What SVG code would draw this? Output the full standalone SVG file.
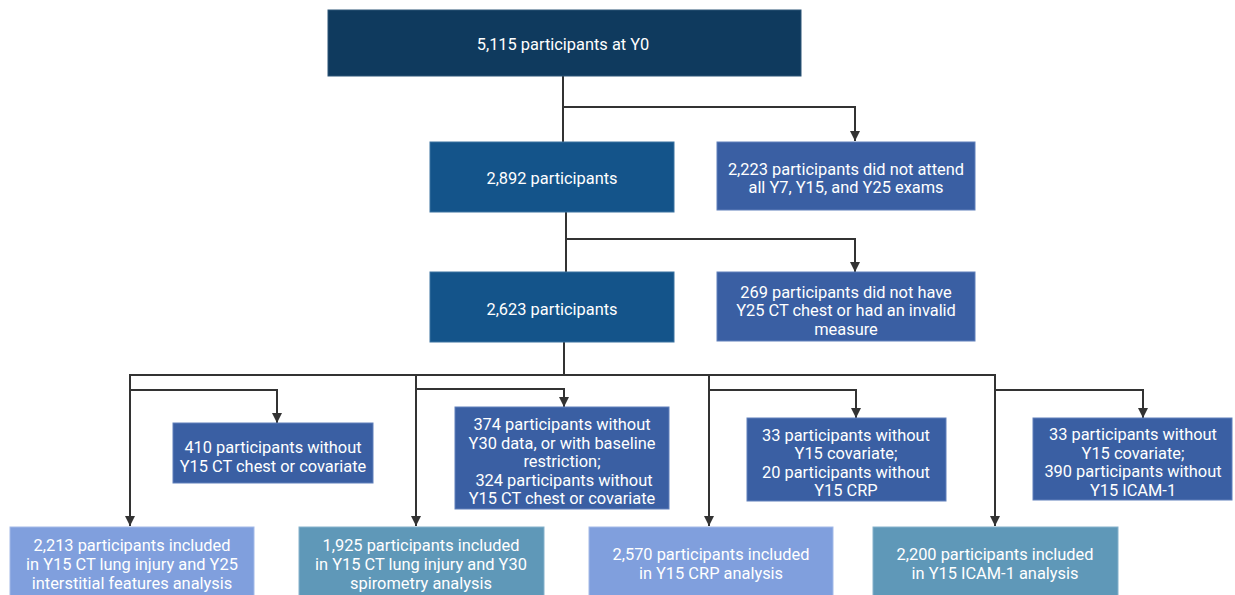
<svg xmlns="http://www.w3.org/2000/svg" width="1235" height="595" viewBox="0 0 1235 595">
<defs>
<marker id="arr" viewBox="0 0 10 10" refX="10" refY="5" markerWidth="5" markerHeight="5" orient="auto" markerUnits="strokeWidth">
<path d="M0,0 L10,5 L0,10 Z" fill="#333"/>
</marker>
<style>
text{font-family:Roboto,"Liberation Sans",sans-serif;font-size:16.4px;fill:#fff;text-anchor:middle;dominant-baseline:central}
.c{fill:none;stroke:#333;stroke-width:2}
.a{marker-end:url(#arr)}
.top{fill:#0f3a5e;stroke:#2c5577;stroke-width:1}
.mid{fill:#14548a;stroke:#3a72a0;stroke-width:1}
.exc{fill:#3a5fa3;stroke:#6180bb;stroke-width:1}
.inc1{fill:#809fdd;stroke:#a3bae8;stroke-width:1}
.inc2{fill:#5f98b8;stroke:#86b2cc;stroke-width:1}
</style>
</defs>
<rect width="1235" height="595" fill="#fff"/>
<g id="connectors">
<path class="c" d="M563 76V142"/>
<path class="c a" d="M563 107H855V141"/>
<path class="c" d="M566 212V272"/>
<path class="c a" d="M566 239H855V272"/>
<path class="c" d="M564 341V375"/>
<path class="c" d="M129 375H996"/>
<path class="c a" d="M130 375V526"/>
<path class="c a" d="M416 375V526"/>
<path class="c a" d="M709 375V526"/>
<path class="c a" d="M995 375V526"/>
<path class="c a" d="M130 390H277V423"/>
<path class="c a" d="M416 389H564V407"/>
<path class="c a" d="M709 390H856V418"/>
<path class="c a" d="M995 390H1143V418"/>
</g>
<g id="n1"><rect class="top" x="328" y="10" width="473" height="66"/><text x="563" y="44">5,115 participants at Y0</text></g>
<g id="n2"><rect class="mid" x="430" y="142" width="244" height="70"/><text x="552" y="178">2,892 participants</text></g>
<g id="n3"><rect class="exc" x="717" y="142" width="258" height="68"/><text x="846" y="169">2,223 participants did not attend</text><text x="846" y="187">all Y7, Y15, and Y25 exams</text></g>
<g id="n4"><rect class="mid" x="430" y="272" width="244" height="70"/><text x="552" y="309">2,623 participants</text></g>
<g id="n5"><rect class="exc" x="717" y="272" width="258" height="69"/><text x="846" y="292">269 participants did not have</text><text x="846" y="310">Y25 CT chest or had an invalid</text><text x="846" y="329">measure</text></g>
<g id="n6"><rect class="exc" x="173" y="423" width="200" height="60"/><text x="273" y="447">410 participants without</text><text x="273" y="466">Y15 CT chest or covariate</text></g>
<g id="n7"><rect class="exc" x="455" y="407" width="214" height="102"/><text x="562" y="424">374 participants without</text><text x="562" y="443">Y30 data, or with baseline</text><text x="562" y="461">restriction;</text><text x="564" y="480">324 participants without</text><text x="562" y="498">Y15 CT chest or covariate</text></g>
<g id="n8"><rect class="exc" x="747" y="418" width="199" height="83"/><text x="846" y="435">33 participants without</text><text x="846" y="453">Y15 covariate;</text><text x="846" y="472">20 participants without</text><text x="846" y="490">Y15 CRP</text></g>
<g id="n9"><rect class="exc" x="1033" y="418" width="199" height="82"/><text x="1133" y="434">33 participants without</text><text x="1133" y="453">Y15 covariate;</text><text x="1133" y="471">390 participants without</text><text x="1133" y="490">Y15 ICAM-1</text></g>
<g id="n10"><rect class="inc1" x="10" y="527" width="244" height="72"/><text x="132" y="545">2,213 participants included</text><text x="132" y="564">in Y15 CT lung injury and Y25</text><text x="132" y="583">interstitial features analysis</text></g>
<g id="n11"><rect class="inc2" x="299" y="527" width="245" height="72"/><text x="421" y="545">1,925 participants included</text><text x="421" y="564">in Y15 CT lung injury and Y30</text><text x="421" y="583">spirometry analysis</text></g>
<g id="n12"><rect class="inc1" x="589" y="527" width="244" height="72"/><text x="711" y="554">2,570 participants included</text><text x="711" y="573">in Y15 CRP analysis</text></g>
<g id="n13"><rect class="inc2" x="873" y="527" width="245" height="72"/><text x="995" y="554">2,200 participants included</text><text x="995" y="573">in Y15 ICAM-1 analysis</text></g>
</svg>
